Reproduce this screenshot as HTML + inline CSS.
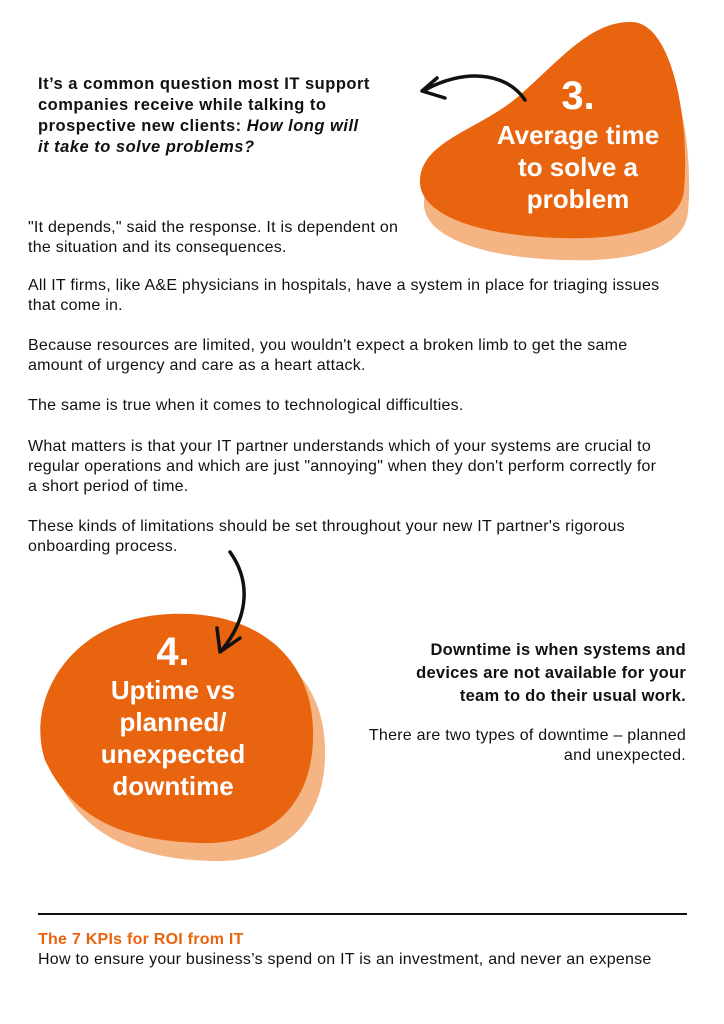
<!DOCTYPE html>
<html><head><meta charset="utf-8"><style>
body{margin:0;width:724px;height:1024px;background:#fff;position:relative;font-family:"Liberation Sans",sans-serif;color:#111;overflow:hidden}
.t{position:absolute;font-size:16px;line-height:20px;white-space:nowrap;letter-spacing:0.25px}
.b{font-weight:bold}
.w{position:absolute;color:#fff;font-weight:bold;text-align:center;font-size:26px;line-height:32px}
</style></head><body>
<svg width="724" height="1024" style="position:absolute;left:0;top:0">
<g transform="translate(4,22)"><path fill="#F5B483" d="M630 22 C672 20 690 120 684 190 C680 230 620 240 560 238 C480 236 418 215 420 180 C422 140 480 130 520 95 C560 60 590 22 630 22 Z"/></g>
<path fill="#E8640E" d="M630 22 C672 20 690 120 684 190 C680 230 620 240 560 238 C480 236 418 215 420 180 C422 140 480 130 520 95 C560 60 590 22 630 22 Z"/>
<g transform="translate(12,18)"><path fill="#F5B483" d="M170 614 C260 610 312 660 313 730 C315 800 275 845 200 843 C120 841 70 815 45 760 C25 700 70 618 170 614 Z"/></g>
<path fill="#E8640E" d="M170 614 C260 610 312 660 313 730 C315 800 275 845 200 843 C120 841 70 815 45 760 C25 700 70 618 170 614 Z"/>
<path d="M525 100 C505 70 460 70 425 90" fill="none" stroke="#111" stroke-width="3.5" stroke-linecap="round"/>
<path d="M437 78 L422 91 L445 98" fill="none" stroke="#111" stroke-width="3.5" stroke-linecap="round" stroke-linejoin="round"/>
<path d="M230 552 C250 580 250 615 222 650" fill="none" stroke="#111" stroke-width="3.5" stroke-linecap="round"/>
<path d="M217 628 L220 652 L240 638" fill="none" stroke="#111" stroke-width="3.5" stroke-linecap="round" stroke-linejoin="round"/>
<line x1="38" y1="914" x2="687" y2="914" stroke="#111" stroke-width="2"/>
</svg>
<div class="t b" style="left:38px;top:74px;font-size:16.5px;line-height:21px;letter-spacing:0.5px">It’s a common question most IT support<br>companies receive while talking to<br>prospective new clients: <i>How long will<br>it take to solve problems?</i></div>
<div class="w" style="left:470px;top:76px;width:216px;font-size:40px;line-height:40px">3.</div>
<div class="w" style="left:470px;top:119px;width:216px">Average time<br>to solve a<br>problem</div>
<div class="t" style="left:28px;top:218px">"It depends," said the response. It is dependent on<br>the situation and its consequences.</div>
<div class="t" style="left:28px;top:276px">All IT firms, like A&amp;E physicians in hospitals, have a system in place for triaging issues<br>that come in.</div>
<div class="t" style="left:28px;top:336px">Because resources are limited, you wouldn't expect a broken limb to get the same<br>amount of urgency and care as a heart attack.</div>
<div class="t" style="left:28px;top:396px">The same is true when it comes to technological difficulties.</div>
<div class="t" style="left:28px;top:437px">What matters is that your IT partner understands which of your systems are crucial to<br>regular operations and which are just "annoying" when they don't perform correctly for<br>a short period of time.</div>
<div class="t" style="left:28px;top:517px">These kinds of limitations should be set throughout your new IT partner's rigorous<br>onboarding process.</div>
<div class="w" style="left:68px;top:632px;width:210px;font-size:40px;line-height:40px">4.</div>
<div class="w" style="left:68px;top:674px;width:210px">Uptime vs<br>planned/<br>unexpected<br>downtime</div>
<div class="t b" style="right:38px;top:639px;text-align:right;font-size:16.5px;line-height:23px">Downtime is when systems and<br>devices are not available for your<br>team to do their usual work.</div>
<div class="t" style="right:38px;top:726px;text-align:right;line-height:20px">There are two types of downtime – planned<br>and unexpected.</div>
<div class="t b" style="left:38px;top:930px;color:#E8640E">The 7 KPIs for ROI from IT</div>
<div class="t" style="left:38px;top:950px">How to ensure your business’s spend on IT is an investment, and never an expense</div>
</body></html>
